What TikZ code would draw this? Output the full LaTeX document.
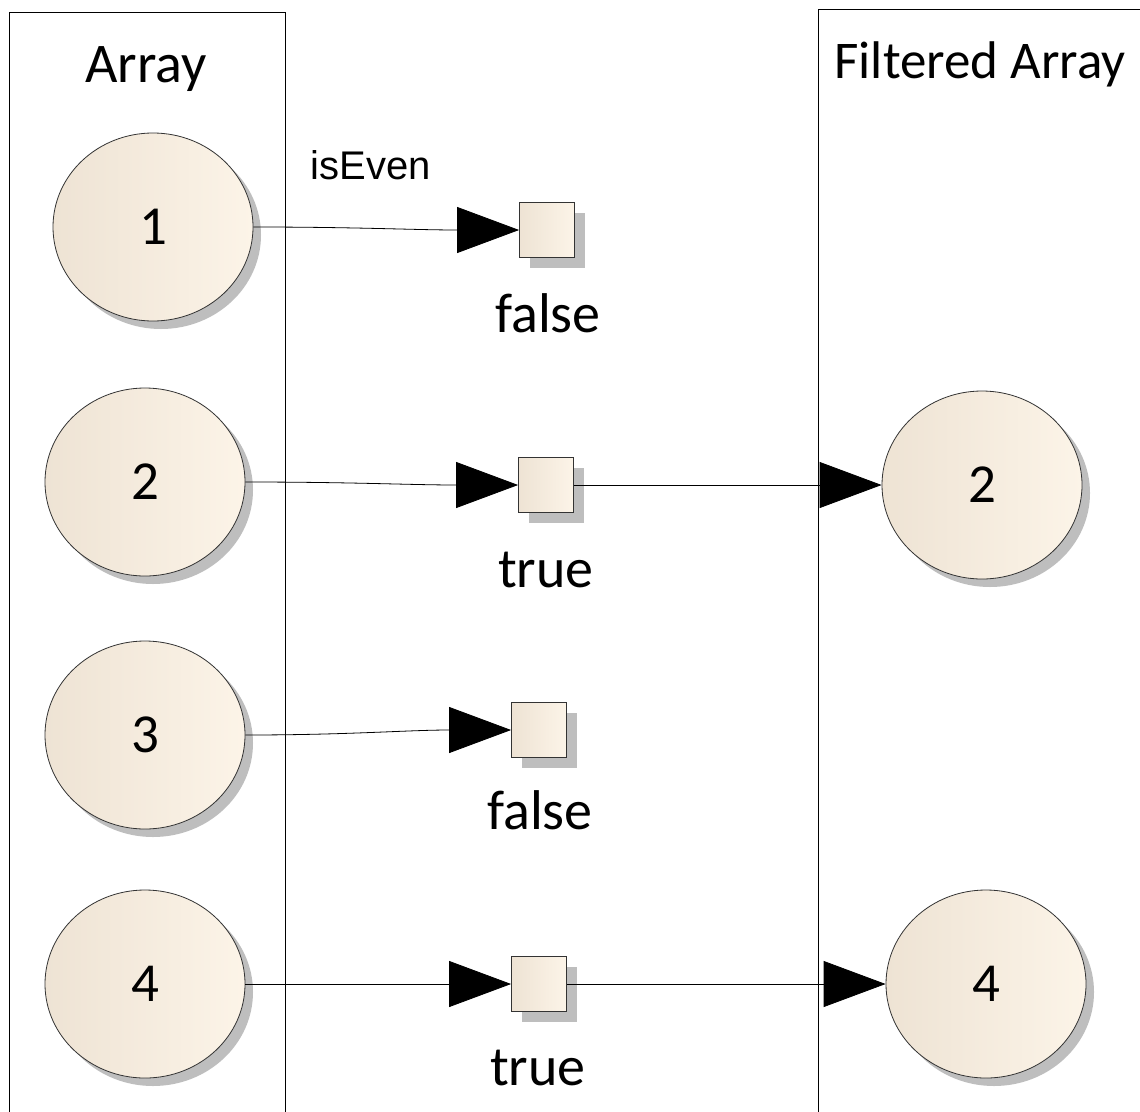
\documentclass[tikz,border=0pt]{standalone}
\usepackage{fontspec}
\setmainfont{Carlito}
\newfontfamily\arialf{Liberation Sans}
\usetikzlibrary{shapes.geometric,shadows,arrows.meta}
\definecolor{fillL}{RGB}{238,227,212}
\definecolor{fillR}{RGB}{252,244,232}
\definecolor{shad}{RGB}{190,190,190}
\tikzset{
  lane/.style={draw=black, line width=0.8pt},
  val/.style={ellipse, draw=black!80, line width=0.8pt, minimum width=200pt, minimum height=188pt,
    left color=fillL, right color=fillR, inner sep=0pt,
    drop shadow={shadow xshift=8pt, shadow yshift=-8pt, fill=shad, opacity=1},
    font=\fontsize{55}{60}\selectfont},
  res/.style={rectangle, draw=black!80, line width=0.8pt, minimum width=55pt, minimum height=55pt,
    left color=fillL, right color=fillR, inner sep=0pt,
    drop shadow={shadow xshift=10pt, shadow yshift=-10pt, fill=shad, opacity=1}},
  lbl/.style={anchor=base, font=\fontsize{56}{60}\selectfont, inner sep=0pt},
  conn/.style={draw=black, line width=0.8pt, -{Triangle[length=62pt,width=46pt]}},
}
\begin{document}
\begin{tikzpicture}[x=1pt,y=-1pt]
\useasboundingbox (0,0) rectangle (1140,1111);
\fill[white] (0,0) rectangle (1140,1111);
% lanes
\draw[lane] (9,1120) -- (9,12) coordinate (la) -- (285,12) -- (285,1120);
\draw[lane] (818,1120) -- (818,9) coordinate (ra) -- (1150,9);
\node[lbl] (tA) at (146,82) {Array};
\node[lbl, font=\fontsize{53}{60}\selectfont] (tF) at (980,78) {Filtered Array};
\node[anchor=base, inner sep=0pt, font=\arialf\fontsize{40}{46}\selectfont] (ev) at (371,179) {isEven};
% source values
\node[val] (c1) at (153,227) {1};
\node[val] (c2) at (145,482) {2};
\node[val] (c3) at (145,735) {3};
\node[val] (c4) at (145,984) {4};
% results
\node[res] (s1) at (547,230) {};
\node[res] (s2) at (546,485) {};
\node[res] (s3) at (539,730) {};
\node[res] (s4) at (539,984) {};
\node[lbl] (l1) at (548,332) {false};
\node[lbl] (l2) at (546,587) {true};
\node[lbl] (l3) at (540,829) {false};
\node[lbl] (l4) at (538,1085) {true};
% filtered values
\node[val] (f2) at (982,485) {2};
\node[val] (f4) at (986,984) {4};
% connectors
\draw[conn] (c1.east) to[out=0,in=180] (s1.west);
\draw[conn] (c2.east) to[out=0,in=180] (s2.west);
\draw[conn] (c3.east) to[out=0,in=180] (s3.west);
\draw[conn] (c4.east) to[out=0,in=180] (s4.west);
\draw[conn] (s2.east) -- (f2.west);
\draw[conn] (s4.east) -- (f4.west);
\end{tikzpicture}
\end{document}
